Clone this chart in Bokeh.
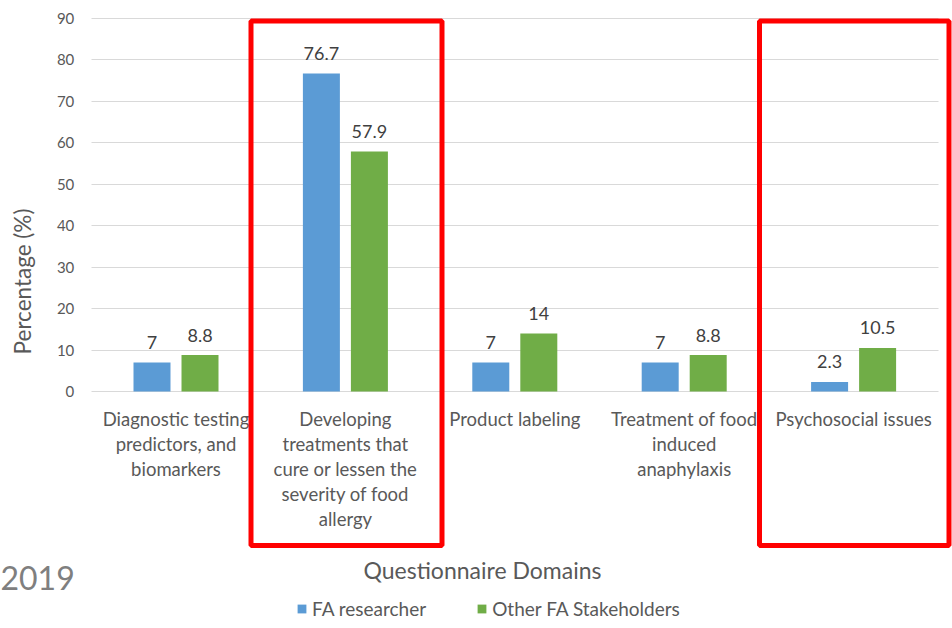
import math
from bokeh.plotting import figure
from bokeh.models import (Range1d, ColumnDataSource, Label, BoxAnnotation,
                          Legend, LegendItem, FixedTicker, Grid)
from bokeh.transform import dodge
from bokeh.core.properties import value
from bokeh.embed import file_html
from bokeh.resources import INLINE

# ---------------- data ----------------
categories = [
    "Diagnostic testing predictors, and biomarkers",
    "Developing treatments that cure or lessen the severity of food allergy",
    "Product labeling",
    "Treatment of food induced anaphylaxis",
    "Psychosocial issues",
]
category_lines = [
    ["Diagnostic testing", "predictors, and", "biomarkers"],
    ["Developing", "treatments that", "cure or lessen the", "severity of food", "allergy"],
    ["Product labeling"],
    ["Treatment of food", "induced", "anaphylaxis"],
    ["Psychosocial issues"],
]
fa_researcher = [7, 76.7, 7, 7, 2.3]
other_stakeholders = [8.8, 57.9, 14, 8.8, 10.5]
fa_researcher_text = ["7", "76.7", "7", "7", "2.3"]
other_stakeholders_text = ["8.8", "57.9", "14", "8.8", "10.5"]
y_ticks = [0, 10, 20, 30, 40, 50, 60, 70, 80, 90]
series_names = ["FA researcher", "Other FA Stakeholders"]
x_title = "Questionnaire Domains"
y_title = "Percentage (%)"
year_text = "2019"

FONT = "Lato"
BLUE = "#5B9BD5"
GREEN = "#70AD47"
GRAY = "#595959"

W, H = 952, 628
n = len(categories)
idx = list(range(n))

# scales: category i centred at 175.5 + 169.4*i px ; y=0 at 391 px, 4.1444 px per unit
px_x = 169.4
x0 = -175.5 / px_x
px_y = 4.1444
y_top = 391 / px_y
y_bot = -(H - 391) / px_y

src = ColumnDataSource(dict(x=idx, a=fa_researcher, b=other_stakeholders,
                            at=fa_researcher_text, bt=other_stakeholders_text))

p = figure(width=W, height=H, x_range=Range1d(x0, x0 + W / px_x),
           y_range=Range1d(y_bot, y_top), output_backend="svg", toolbar_location=None,
           x_axis_location=None, y_axis_location=None, min_border=0)
p.outline_line_color = None
p.background_fill_color = "white"
p.border_fill_color = "white"
p.xgrid.visible = False
p.ygrid.visible = False

grid = Grid(dimension=1, ticker=FixedTicker(ticks=y_ticks), cross_bounds=(-0.5, n - 0.5),
            grid_line_color="#D9D9D9", grid_line_width=1)
p.add_layout(grid)

off = 0.1417
bw = 0.2184
r1 = p.vbar(x=dodge("x", -off), top="a", width=bw, source=src,
            fill_color=BLUE, line_color=None)
r2 = p.vbar(x=dodge("x", off), top="b", width=bw, source=src,
            fill_color=GREEN, line_color=None)

for col, o in (("at", -off), ("bt", off)):
    p.text(x=dodge("x", o), y=col[0], text=col, source=src,
           text_font=value(FONT), text_font_size="18px", text_color="#404040",
           text_align="center", text_baseline="alphabetic", y_offset=-20)

# y tick labels
p.text(x=[-0.5] * len(y_ticks), y=y_ticks, text=[str(t) for t in y_ticks],
       text_font=value(FONT), text_font_size="15px", text_color=GRAY,
       text_align="right", text_baseline="middle", x_offset=-17)

# category labels, one row per line
lx, ly, lt, lo = [], [], [], []
for i, lines in enumerate(category_lines):
    for j, line in enumerate(lines):
        lx.append(i)
        ly.append(0)
        lt.append(line)
        lo.append(27 + 25 * j)
p.text(x="x", y="y", text="t", y_offset="o",
       source=ColumnDataSource(dict(x=lx, y=ly, t=lt, o=lo)),
       text_font=value(FONT), text_font_size="18.5px", text_color=GRAY,
       text_align="center", text_baseline="middle")

# titles
p.add_layout(Label(x=22, y=281, x_units="canvas", y_units="canvas", text=y_title,
                   angle=math.pi / 2, text_align="center", text_baseline="middle",
                   text_font=FONT, text_font_size="22.5px", text_color=GRAY))
p.add_layout(Label(x=482, y=569, x_units="canvas", y_units="canvas", text=x_title,
                   text_align="center", text_baseline="middle",
                   text_font=FONT, text_font_size="23px", text_color=GRAY))
p.add_layout(Label(x=0, y=577, x_units="canvas", y_units="canvas", text=year_text,
                   text_align="left", text_baseline="middle",
                   text_font=FONT, text_font_size="32px", text_color="#7F7F7F"))

# highlight boxes
for left, right in ((250.5, 441.5), (759, 948.5)):
    p.add_layout(BoxAnnotation(left=left, right=right, top=20.5, bottom=545,
                               left_units="canvas", right_units="canvas",
                               top_units="canvas", bottom_units="canvas",
                               fill_alpha=0, line_color="#FF0000", line_alpha=1,
                               line_width=5))

legend = Legend(items=[LegendItem(label=series_names[0], renderers=[r1]),
                       LegendItem(label=series_names[1], renderers=[r2])],
                location=(296, 8), orientation="horizontal",
                glyph_width=11, glyph_height=11, label_standoff=5, spacing=50,
                label_height=20, padding=0, margin=0, border_line_color=None,
                background_fill_alpha=0,
                label_text_font=FONT, label_text_font_size="19px", label_text_color=GRAY)
p.add_layout(legend)

open("out.html", "w").write(file_html(p, INLINE))
